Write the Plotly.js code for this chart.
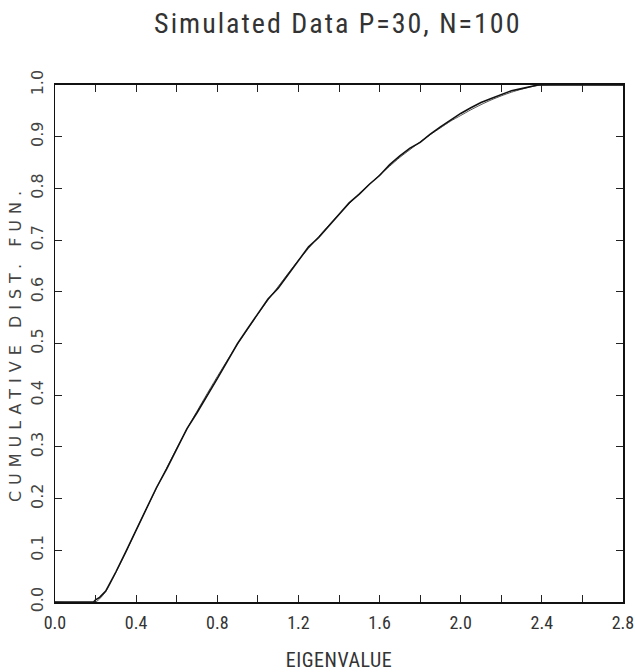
<!DOCTYPE html>
<html>
<head>
<meta charset="utf-8">
<script src="https://cdn.plot.ly/plotly-3.0.1.min.js"></script>
<style>
  body { margin: 0; background: #fff; }
  #chart { width: 635px; height: 672px; }
  .gtitle { letter-spacing: 2px; }
  .ytitle { letter-spacing: 6px; }
  .xtitle { letter-spacing: 0.5px; }
</style>
</head>
<body>
<div id="chart"></div>
<script>
// Theoretical (smooth) cumulative distribution
const theoX = [0.0, 0.20, 0.25, 0.30, 0.35, 0.40, 0.45, 0.50, 0.55, 0.60, 0.65, 0.70, 0.75, 0.80, 0.85, 0.90, 0.95,
               1.00, 1.05, 1.10, 1.15, 1.20, 1.25, 1.30, 1.35, 1.40, 1.45, 1.50, 1.55, 1.60, 1.65, 1.70, 1.75,
               1.80, 1.85, 1.90, 1.95, 2.00, 2.05, 2.10, 2.15, 2.20, 2.25, 2.30, 2.35, 2.40, 2.80];
const theoY = [0.0, 0.0, 0.020, 0.057, 0.097, 0.139, 0.180, 0.220, 0.259, 0.297, 0.334, 0.369, 0.403, 0.436, 0.468, 0.499, 0.528,
               0.557, 0.584, 0.610, 0.636, 0.661, 0.684, 0.707, 0.729, 0.750, 0.770, 0.790, 0.808, 0.826, 0.843, 0.860, 0.875,
               0.890, 0.904, 0.917, 0.930, 0.941, 0.952, 0.962, 0.971, 0.979, 0.986, 0.992, 0.997, 1.0, 1.0];

const empX = [0.0, 0.19, 0.20, 0.22, 0.25, 0.28, 0.30, 0.35, 0.40, 0.45, 0.50, 0.55, 0.60, 0.65, 0.70, 0.75, 0.80, 0.85,
              0.90, 0.95, 1.00, 1.05, 1.10, 1.15, 1.20, 1.25, 1.30, 1.35, 1.40, 1.45, 1.50, 1.55, 1.60, 1.65, 1.70,
              1.75, 1.80, 1.85, 1.90, 1.95, 2.00, 2.05, 2.10, 2.15, 2.20, 2.25, 2.30, 2.35, 2.38, 2.80];
const empY = [0.0, 0.0, 0.004, 0.009, 0.021, 0.043, 0.058, 0.098, 0.138, 0.178, 0.221, 0.257, 0.296, 0.335, 0.366, 0.398, 0.432, 0.466,
              0.500, 0.529, 0.557, 0.586, 0.607, 0.633, 0.660, 0.687, 0.705, 0.727, 0.749, 0.772, 0.789, 0.808, 0.825, 0.846, 0.863,
              0.878, 0.889, 0.905, 0.919, 0.932, 0.945, 0.956, 0.966, 0.974, 0.982, 0.989, 0.993, 0.998, 1.0, 1.0];

const xTickVals = [0.0, 0.2, 0.4, 0.6, 0.8, 1.0, 1.2, 1.4, 1.6, 1.8, 2.0, 2.2, 2.4, 2.6, 2.8];
const xTickText = ['0.0', '', '0.4', '', '0.8', '', '1.2', '', '1.6', '', '2.0', '', '2.4', '', '2.8'];
const yTickVals = [0.0, 0.1, 0.2, 0.3, 0.4, 0.5, 0.6, 0.7, 0.8, 0.9, 1.0];
const yTickText = ['0.0', '0.1', '0.2', '0.3', '0.4', '0.5', '0.6', '0.7', '0.8', '0.9', '1.0'];

const narrow = '"Liberation Sans Narrow", "Roboto Condensed", "DejaVu Sans Condensed", sans-serif';

const traces = [
  { x: theoX, y: theoY, type: 'scatter', mode: 'lines', line: { color: '#555', width: 1, shape: 'spline', smoothing: 0.6 },
    hoverinfo: 'skip', showlegend: false },
  { x: empX, y: empY, type: 'scatter', mode: 'lines', line: { color: '#111', width: 1.6, shape: 'linear' },
    hoverinfo: 'skip', showlegend: false }
];

const layout = {
  width: 635, height: 672,
  margin: { l: 55, r: 12, t: 85, b: 70 },
  paper_bgcolor: '#fff', plot_bgcolor: '#fff',
  showlegend: false,
  title: { text: 'Simulated Data P=30, N=100', x: 0.532, xanchor: 'center', y: 0.966, yanchor: 'middle',
           font: { family: narrow, size: 28, color: '#333' } },
  xaxis: {
    range: [0, 2.8], tickmode: 'array', tickvals: xTickVals, ticktext: xTickText,
    ticks: 'inside', ticklen: 7, tickwidth: 1, tickcolor: '#222',
    showline: true, linecolor: '#111', linewidth: 2, mirror: 'ticks',
    showgrid: false, zeroline: false, ticklabelstandoff: 3,
    tickfont: { family: narrow, size: 18, color: '#333' },
    title: { text: 'EIGENVALUE', font: { family: narrow, size: 20, color: '#333' }, standoff: 26 }
  },
  yaxis: {
    range: [0, 1], tickmode: 'array', tickvals: yTickVals, ticktext: yTickText,
    ticks: 'inside', ticklen: 7, tickwidth: 1, tickcolor: '#222', tickangle: -90,
    showline: true, linecolor: '#111', linewidth: 1.5, mirror: 'ticks',
    showgrid: false, zeroline: false, ticklabelstandoff: 4,
    tickfont: { family: '"DejaVu Sans", sans-serif', size: 16, color: '#444' },
    title: { text: 'CUMULATIVE DIST. FUN.', font: { family: '"DejaVu Sans", sans-serif', size: 16, color: '#444' }, standoff: 2 }
  }
};

Plotly.newPlot('chart', traces, layout, { staticPlot: true, displayModeBar: false });
</script>
</body>
</html>
